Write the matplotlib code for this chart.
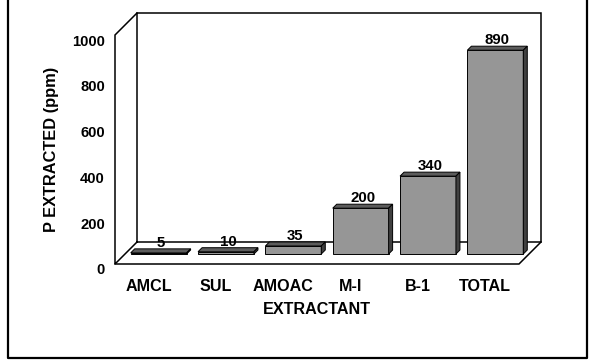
import matplotlib
matplotlib.use("Agg")
import matplotlib.pyplot as plt
from matplotlib.patches import Polygon
from matplotlib.lines import Line2D
from matplotlib.transforms import IdentityTransform, ScaledTranslation

plt.rcParams['font.family'] = ['Liberation Sans', 'DejaVu Sans']
plt.rcParams['font.weight'] = 'bold'

# data
extractants = ["AMCL", "SUL", "AMOAC", "M-I", "B-1", "TOTAL"]
p_extracted = [5, 10, 35, 200, 340, 890]
y_ticks = [0, 200, 400, 600, 800, 1000]

W, H = 597, 360
fig = plt.figure(figsize=(W / 100, H / 100), dpi=100)
ax = fig.add_axes([115 / W, 96 / H, 404 / W, 229 / H])
ax.set_xlim(-0.5, len(extractants) - 0.5)
ax.set_ylim(0, 1000)
ax.patch.set_visible(False)
for s in ax.spines.values():
    s.set_visible(False)

WALL = 22       # depth of the 3d box (px)
BAR_FRONT = 10  # bars sit part way into the box
BAR_BACK = 14
BAR_W = 0.83

FRONT_COL = "#969696"
TOP_COL = "#5c5c5c"
SIDE_COL = "#404040"


def to_px(points):
    # (x, y, depth in px) -> display pixels, depth goes up and to the right
    out = []
    for x, y, d in points:
        px, py = ax.transData.transform((x, y))
        out.append((px + d, py + d))
    return out


def poly(points, **kw):
    ax.add_patch(Polygon(to_px(points), closed=True, transform=IdentityTransform(),
                         clip_on=False, **kw))


def line(points, **kw):
    xy = to_px(points)
    ax.add_line(Line2D([p[0] for p in xy], [p[1] for p in xy],
                       transform=IdentityTransform(), clip_on=False, **kw))


x0, x1 = ax.get_xlim()
y0, y1 = ax.get_ylim()

# back wall, left wall and floor outlines
wall_kw = dict(color="black", lw=1.1, solid_joinstyle="miter", zorder=1)
line([(x0, y0, WALL), (x0, y1, WALL), (x1, y1, WALL), (x1, y0, WALL), (x0, y0, WALL)], **wall_kw)
line([(x0, y1, WALL), (x0, y1, 0), (x0, y0, 0), (x0, y0, WALL)], **wall_kw)
line([(x0, y0, 0), (x1, y0, 0), (x1, y0, WALL)], **wall_kw)

# bars: front face through ax.bar, top and side faces as polygons
shift = ScaledTranslation(BAR_FRONT / 100, BAR_FRONT / 100, fig.dpi_scale_trans)
xs = list(range(len(extractants)))
ax.bar(xs, p_extracted, width=BAR_W, color=FRONT_COL, edgecolor="black", lw=0.7,
       transform=ax.transData + shift, clip_on=False, zorder=3)

for i, v in enumerate(p_extracted):
    xl, xr = i - BAR_W / 2, i + BAR_W / 2
    poly([(xl, v, BAR_FRONT), (xr, v, BAR_FRONT), (xr, v, BAR_BACK), (xl, v, BAR_BACK)],
         fc=TOP_COL, ec="black", lw=0.7, zorder=3)
    poly([(xr, 0, BAR_FRONT), (xr, 0, BAR_BACK), (xr, v, BAR_BACK), (xr, v, BAR_FRONT)],
         fc=SIDE_COL, ec="black", lw=0.7, zorder=3)
    lbl_shift = ScaledTranslation((BAR_FRONT + 2) / 100, (BAR_FRONT + 6) / 100, fig.dpi_scale_trans)
    ax.text(i, v, str(v), ha="center", va="baseline", fontsize=10.8, fontweight="bold",
            transform=ax.transData + lbl_shift, zorder=5)

# axes ticks and labels
ax.set_yticks(y_ticks)
ax.set_xticks(xs)
ax.set_xticklabels(extractants)
ax.tick_params(axis="y", length=0, pad=7.2, labelsize=10.6)
ax.tick_params(axis="x", length=0, pad=10.5, labelsize=11.6)
down = ScaledTranslation(0, -0.05, fig.dpi_scale_trans)
for t in ax.get_yticklabels():
    t.set_transform(t.get_transform() + down)

ax.set_ylabel("P EXTRACTED (ppm)", fontsize=11.8, fontweight="bold", va="center")
ax.yaxis.set_label_coords(-0.158, 0.5)
ax.set_xlabel("EXTRACTANT", fontsize=11.6, fontweight="bold", va="center")
ax.xaxis.set_label_coords(0.5, -0.2)

# outer frame (open at the top)
frame_kw = dict(color="black", lw=1.6, transform=IdentityTransform())
fig.add_artist(Line2D([8, 8, 587, 587], [H, H - 358, H - 358, H], **frame_kw))

fig.savefig("out.png", dpi=100)
